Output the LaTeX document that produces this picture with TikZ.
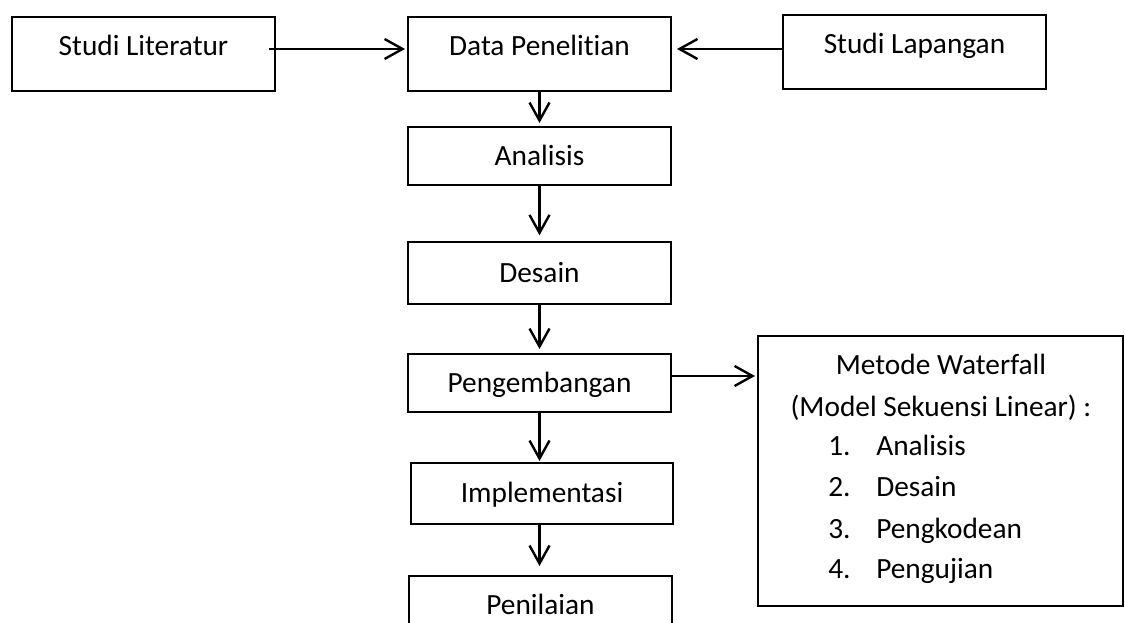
\documentclass[tikz,border=0pt]{standalone}
\usepackage{fontspec}
\setmainfont{Carlito}[Ligatures=NoCommon]
\usetikzlibrary{arrows.meta}
\begin{document}
\begin{tikzpicture}[x=0.75pt,y=-0.75pt,
  box/.style={draw, line width=2.2pt, inner sep=0pt, outer sep=0pt,
    minimum width=197.25pt, text height=14pt, text depth=0pt,
    font=\fontsize{22}{26}\selectfont},
  topbox/.style={box, minimum height=55.5pt, text height=3pt},
  flow/.style={line width=1.8pt, -{Straight Barb[length=13.5pt,width=15pt]}},
  txt/.style={font=\fontsize{22}{26}\selectfont, inner sep=0pt, anchor=base}]
\useasboundingbox (0,0) rectangle (1125,623);
\clip (0,0) rectangle (1125,623);

% top row: sources feeding the research data
\node[topbox] (sl)   at (143.5,54) {Studi Literatur};
\node[topbox] (dp)   at (539.5,54) {Data Penelitian};
\node[topbox] (slap) at (914.5,52) {Studi Lapangan};

% main process column
\node[box, minimum height=43.5pt] (an) at (539.5,156) {Analisis};
\node[box, minimum height=46.5pt] (ds) at (539.5,273) {Desain};
\node[box, minimum height=43.5pt] (pg) at (539.5,383) {Pengembangan};
\node[box, minimum width=196.5pt, minimum height=45.75pt] (im) at (542,493.5) {Implementasi};
\node[box, minimum height=43.5pt] (pn) at (540.5,605) {Penilaian};

% waterfall method box
\node[box, minimum width=273.75pt, minimum height=202.5pt] (wf) at (940.5,471) {};
\node[txt] (wf1) at (941,375) {Metode Waterfall};
\node[txt] (wf2) at (941,417) {(Model Sekuensi Linear) :};
\foreach \n/\item/\y in {1/Analisis/456, 2/Desain/497, 3/Pengkodean/538, 4/Pengujian/578}{
  \node[txt, anchor=base west] (num\n) at (828,\y) {\n.};
  \node[txt, anchor=base west] (item\n) at (876,\y) {\item};
}

% connectors
\coordinate (dpW) at ([yshift=3.75pt]dp.west);
\coordinate (dpE) at ([yshift=3.75pt]dp.east);
\draw[flow, shorten >=2.25pt] ([xshift=-4.5pt]sl.east |- dpW) -- (dpW);
\draw[flow, shorten >=4.5pt] (slap.west |- dpE) -- (dpE);
\draw[flow, shorten >=3pt] (dp) -- (an);
\draw[flow, shorten >=5pt] (an) -- (ds);
\draw[flow, shorten >=3.75pt] (ds) -- (pg);
\draw[flow, shorten >=1.5pt] (pg.south) -- (pg.south |- im.north);
\draw[flow, shorten >=7.5pt] (pg.south |- im.south) -- (pg.south |- pn.north);
\coordinate (pgE) at ([yshift=5.25pt]pg.east);
\draw[flow, shorten >=2.25pt] (pgE) -- (wf.west |- pgE);
\end{tikzpicture}
\end{document}
